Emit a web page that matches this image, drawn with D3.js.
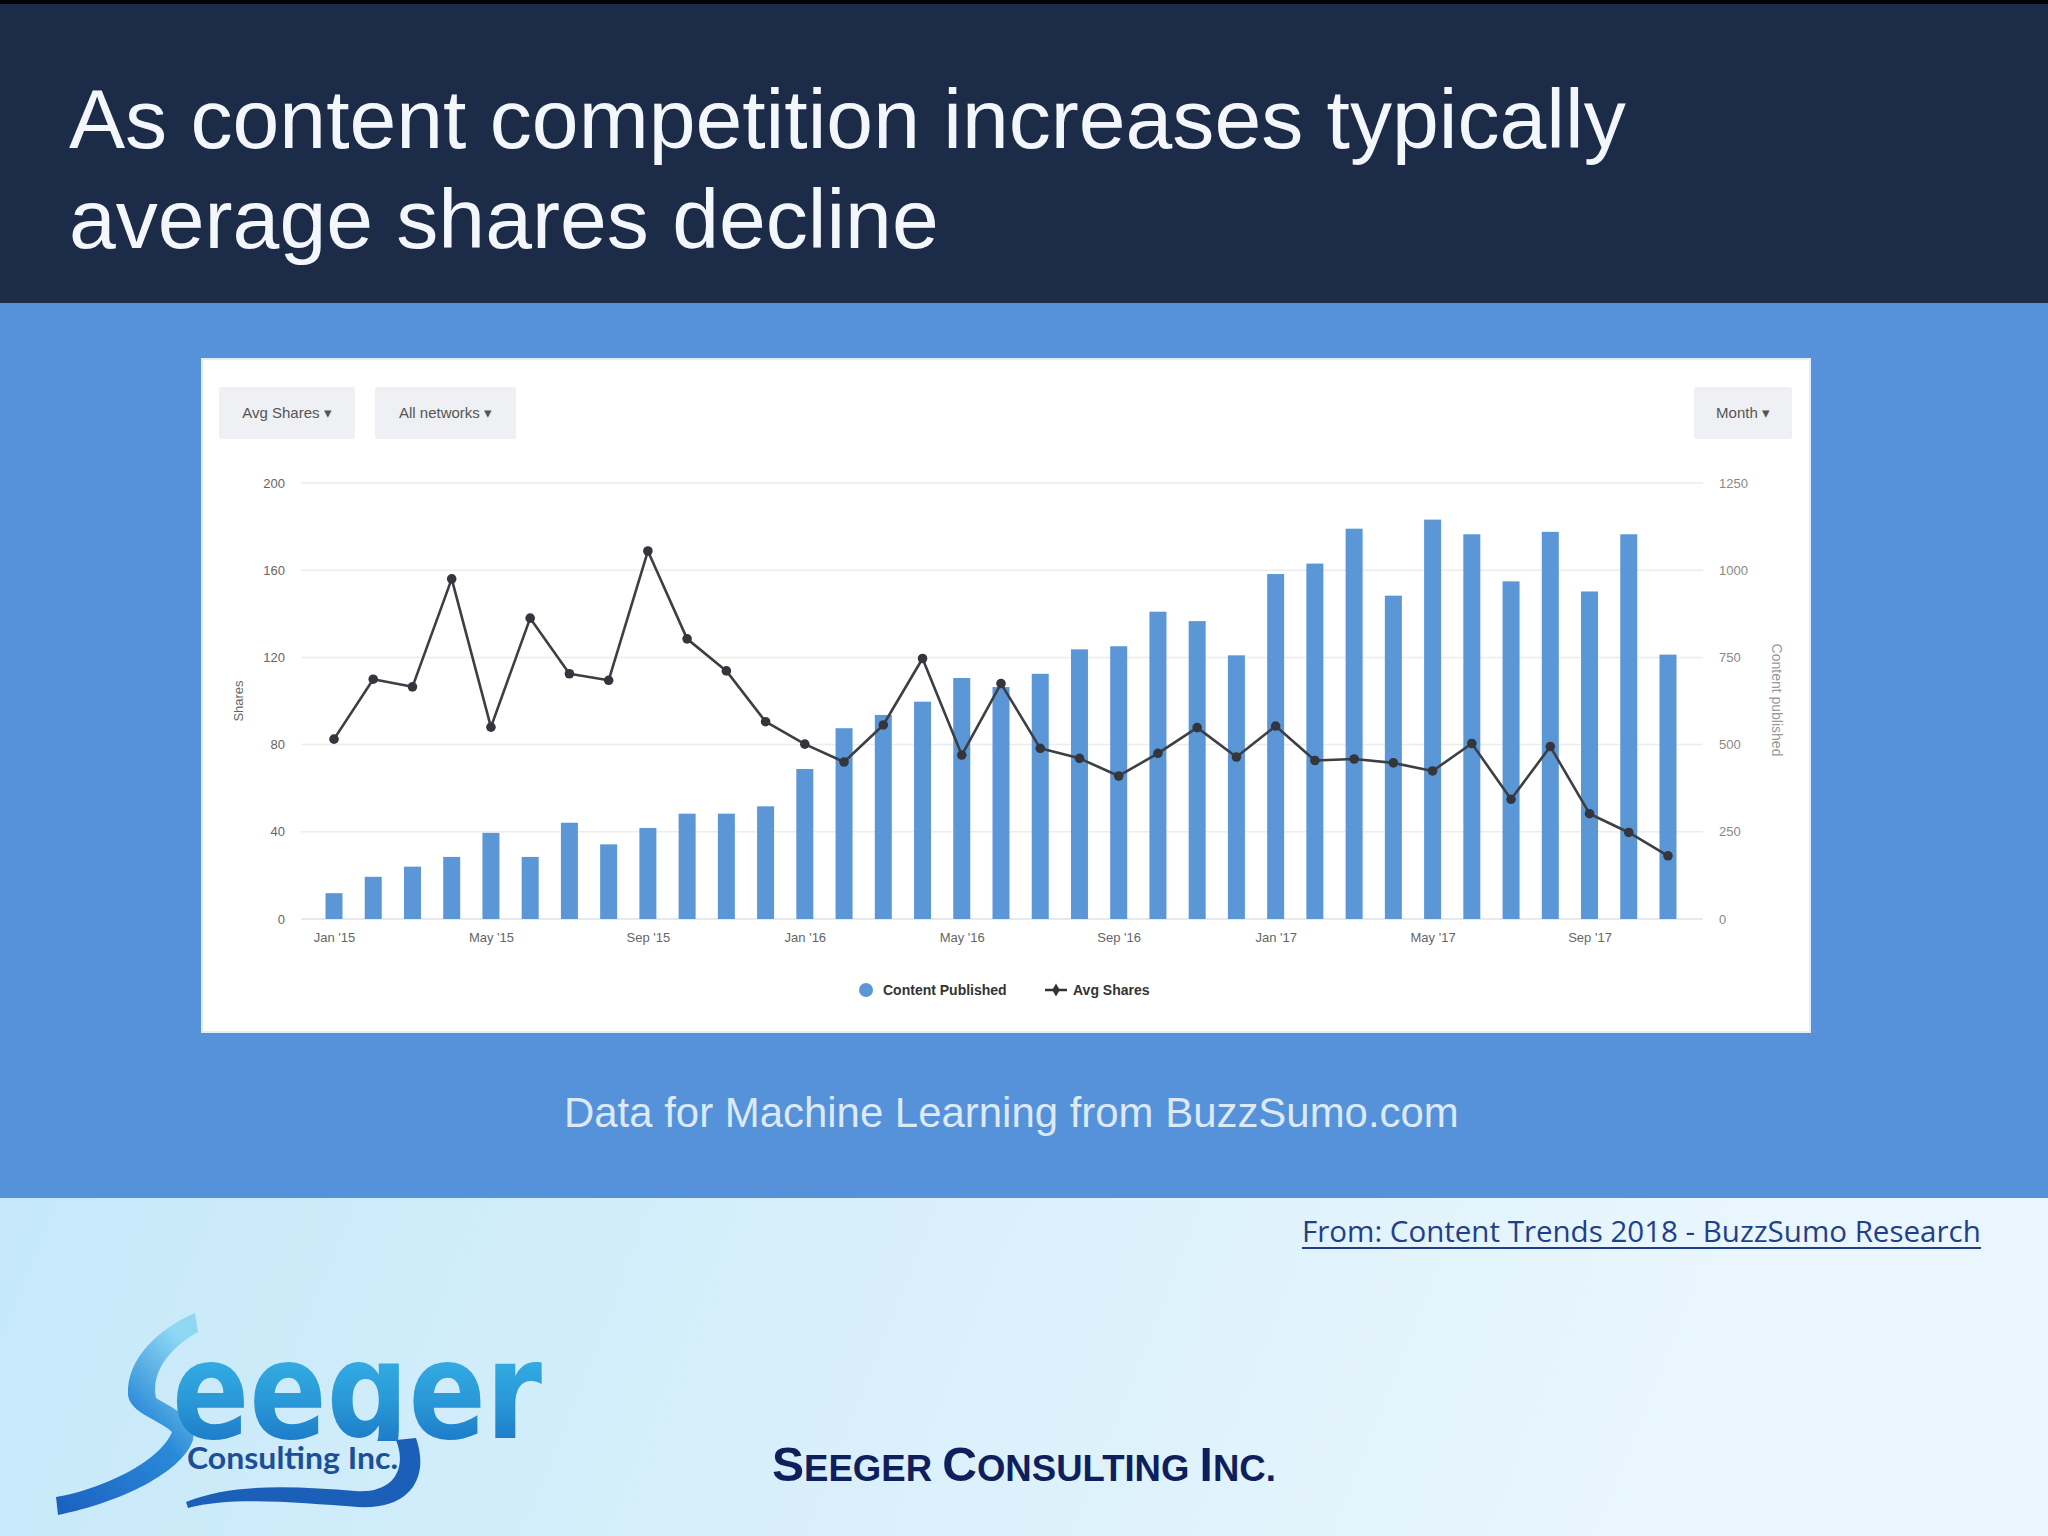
<!DOCTYPE html>
<html>
<head>
<meta charset="utf-8">
<script src="https://cdnjs.cloudflare.com/ajax/libs/d3/7.8.5/d3.min.js"></script>
<style>
  html, body { margin: 0; padding: 0; background: #fff; }
  svg { display: block; }
</style>
</head>
<body>
<svg id="chart" width="2048" height="1536"></svg>
<script>
// ---------------- DATA ----------------
const months = [
  "Jan '15","Feb '15","Mar '15","Apr '15","May '15","Jun '15","Jul '15","Aug '15","Sep '15","Oct '15","Nov '15","Dec '15",
  "Jan '16","Feb '16","Mar '16","Apr '16","May '16","Jun '16","Jul '16","Aug '16","Sep '16","Oct '16","Nov '16","Dec '16",
  "Jan '17","Feb '17","Mar '17","Apr '17","May '17","Jun '17","Jul '17","Aug '17","Sep '17","Oct '17","Nov '17"
];
const contentPublished = [
  74, 121, 150, 178, 247, 178, 276, 214, 261, 302, 302, 323,
  430, 547, 585, 623, 691, 665, 703, 773, 782, 881, 854, 756,
  989, 1019, 1119, 927, 1145, 1103, 968, 1110, 939, 1103, 758
];
const avgShares = [
  82.5, 110, 106.5, 156, 88, 138, 112.5, 109.5, 168.8, 128.5, 113.8, 90.5,
  80.2, 72, 89, 119.5, 75.2, 108, 78.3, 73.7, 65.6, 76, 87.8, 74.3,
  88.5, 72.7, 73.4, 71.6, 67.9, 80.5, 54.9, 79.1, 48.3, 39.7, 29
];
const xTickLabels = ["Jan '15","May '15","Sep '15","Jan '16","May '16","Sep '16","Jan '17","May '17","Sep '17"];
const leftTicks = [0, 40, 80, 120, 160, 200];
const rightTicks = [0, 250, 500, 750, 1000, 1250];
const seriesNames = ["Content Published", "Avg Shares"];
const buttonLabels = ["Avg Shares \u25BE", "All networks \u25BE", "Month \u25BE"];

const titleLines = ["As content competition increases typically", "average shares decline"];
const subtitle = "Data for Machine Learning from BuzzSumo.com";
const sourceText = "From: Content Trends 2018 - BuzzSumo Research";

// ---------------- SETUP ----------------
const svg = d3.select("#chart");
const defs = svg.append("defs");
const SANS = "'Liberation Sans', Arial, Helvetica, sans-serif";

function fitWidth(sel, w) {
  const len = sel.node().getComputedTextLength();
  const fs = parseFloat(sel.attr("font-size"));
  sel.attr("font-size", (fs * w / len).toFixed(2));
}

// backgrounds
const bottomGrad = defs.append("linearGradient").attr("id", "bottomGrad")
  .attr("x1", "0").attr("y1", "0").attr("x2", "1").attr("y2", "0.3");
bottomGrad.append("stop").attr("offset", "0").attr("stop-color", "#bce5f8");
bottomGrad.append("stop").attr("offset", "1").attr("stop-color", "#e9f6fd");

svg.append("rect").attr("x", 0).attr("y", 0).attr("width", 2048).attr("height", 1536).attr("fill", "url(#bottomGrad)");
svg.append("rect").attr("x", 0).attr("y", 0).attr("width", 2048).attr("height", 1198).attr("fill", "#5692da");
svg.append("rect").attr("x", 0).attr("y", 0).attr("width", 2048).attr("height", 303).attr("fill", "#1b2b48");
svg.append("rect").attr("x", 0).attr("y", 0).attr("width", 2048).attr("height", 4).attr("fill", "#050505");

// title
const t1 = svg.append("text").attr("x", 69).attr("y", 148).attr("font-family", SANS)
  .attr("font-size", 84).attr("fill", "#f3f6fb").text(titleLines[0]);
fitWidth(t1, 1557);
svg.append("text").attr("x", 69).attr("y", 248).attr("font-family", SANS)
  .attr("font-size", t1.attr("font-size")).attr("fill", "#f3f6fb").text(titleLines[1]);

// chart panel
svg.append("rect").attr("x", 202).attr("y", 359).attr("width", 1608).attr("height", 673)
  .attr("fill", "#ffffff").attr("stroke", "#e4ecf6").attr("stroke-width", 2);

// buttons
const buttons = [
  {x: 219, w: 136}, {x: 375, w: 141}, {x: 1694, w: 98}
];
buttons.forEach((b, i) => {
  svg.append("rect").attr("x", b.x).attr("y", 387).attr("width", b.w).attr("height", 52)
    .attr("rx", 3).attr("fill", "#eef0f3");
  svg.append("text").attr("x", b.x + b.w / 2).attr("y", 418).attr("text-anchor", "middle")
    .attr("font-family", SANS).attr("font-size", 15).attr("fill", "#555")
    .text(buttonLabels[i]);
});

// scales
const x = d3.scalePoint().domain(months).range([334, 1668]);
const yL = d3.scaleLinear().domain([0, 200]).range([919, 483]);
const yR = d3.scaleLinear().domain([0, 1250]).range([919, 483]);
const plotLeft = 301, plotRight = 1703;
const barW = 17;

// gridlines
svg.append("g").selectAll("line").data(leftTicks).join("line")
  .attr("x1", plotLeft).attr("x2", plotRight)
  .attr("y1", d => yL(d)).attr("y2", d => yL(d))
  .attr("stroke", d => d === 0 ? "#e2e2e2" : "#ececec").attr("stroke-width", 1.5);

// left axis
const axL = svg.append("g").attr("transform", "translate(285,0)")
  .call(d3.axisLeft(yL).tickValues(leftTicks).tickSize(0).tickPadding(0).tickFormat(d3.format("d")));
axL.select(".domain").remove();
axL.selectAll("text").attr("font-family", SANS).attr("font-size", 13).attr("fill", "#666");

// right axis
const axR = svg.append("g").attr("transform", "translate(1719,0)")
  .call(d3.axisRight(yR).tickValues(rightTicks).tickSize(0).tickPadding(0).tickFormat(d3.format("d")));
axR.select(".domain").remove();
axR.selectAll("text").attr("font-family", SANS).attr("font-size", 13).attr("fill", "#888");

// bottom axis
const axB = svg.append("g").attr("transform", "translate(0,930)")
  .call(d3.axisBottom(x).tickValues(xTickLabels).tickSize(0).tickPadding(0));
axB.select(".domain").remove();
axB.selectAll("text").attr("font-family", SANS).attr("font-size", 13).attr("fill", "#666").attr("dy", "0.9em");

// axis titles
svg.append("text").attr("transform", "translate(243,701) rotate(-90)")
  .attr("text-anchor", "middle").attr("font-family", SANS).attr("font-size", 13).attr("fill", "#666")
  .text("Shares");
svg.append("text").attr("transform", "translate(1772,700) rotate(90)")
  .attr("text-anchor", "middle").attr("font-family", SANS).attr("font-size", 14).attr("fill", "#999")
  .text("Content published");

// bars
const barColor = "#5b97d6";
svg.append("g").selectAll("rect").data(contentPublished).join("rect")
  .attr("x", (d, i) => x(months[i]) - barW / 2)
  .attr("y", d => yR(d))
  .attr("width", barW)
  .attr("height", d => yR(0) - yR(d))
  .attr("fill", barColor);

// line
const line = d3.line().x((d, i) => x(months[i])).y(d => yL(d));
svg.append("path").datum(avgShares).attr("d", line)
  .attr("fill", "none").attr("stroke", "#3d3f44").attr("stroke-width", 2.6).attr("stroke-linejoin", "round");
svg.append("g").selectAll("circle").data(avgShares).join("circle")
  .attr("cx", (d, i) => x(months[i])).attr("cy", d => yL(d)).attr("r", 4.8)
  .attr("fill", "#33363c");

// legend
const lg = svg.append("g");
lg.append("circle").attr("cx", 866).attr("cy", 990).attr("r", 7).attr("fill", barColor);
lg.append("text").attr("x", 883).attr("y", 995).attr("font-family", SANS).attr("font-size", 14)
  .attr("font-weight", "bold").attr("fill", "#333").text(seriesNames[0]);
lg.append("line").attr("x1", 1045).attr("x2", 1067).attr("y1", 990).attr("y2", 990)
  .attr("stroke", "#333").attr("stroke-width", 2.5);
lg.append("path").attr("d", d3.symbol(d3.symbolDiamond, 50)).attr("transform", "translate(1056,990)").attr("fill", "#333");
lg.append("text").attr("x", 1073).attr("y", 995).attr("font-family", SANS).attr("font-size", 14)
  .attr("font-weight", "bold").attr("fill", "#333").text(seriesNames[1]);

// subtitle
const st = svg.append("text").attr("x", 564).attr("y", 1127).attr("font-family", SANS)
  .attr("font-size", 40).attr("fill", "#dce9f7").text(subtitle);
fitWidth(st, 895);

// source link
const src = svg.append("text").attr("x", 1302).attr("y", 1242)
  .attr("font-family", "'Open Sans', 'Noto Sans', sans-serif")
  .attr("font-size", 30).attr("fill", "#1f3f8c").text(sourceText);
fitWidth(src, 679);
svg.append("line").attr("x1", 1302).attr("x2", 1981).attr("y1", 1248).attr("y2", 1248)
  .attr("stroke", "#1f3f8c").attr("stroke-width", 2);

// company name in small caps
const cn = svg.append("text").attr("x", 772).attr("y", 1481).attr("font-family", SANS)
  .attr("font-weight", "bold").attr("font-size", 46).attr("fill", "#0f1f5c");
[["S", 1], ["EEGER ", 0.76], ["C", 1], ["ONSULTING ", 0.76], ["I", 1], ["NC.", 0.76]].forEach(([s, k]) => {
  cn.append("tspan").attr("font-size", (k) + "em").text(s);
});
fitWidth(cn, 504);

// logo
const sGrad = defs.append("linearGradient").attr("id", "sGrad")
  .attr("x1", "0").attr("y1", "1").attr("x2", "0.7").attr("y2", "0");
sGrad.append("stop").attr("offset", "0").attr("stop-color", "#1a5fbe");
sGrad.append("stop").attr("offset", "0.6").attr("stop-color", "#2b8ad8");
sGrad.append("stop").attr("offset", "1").attr("stop-color", "#8fd8f4");
const eGrad = defs.append("linearGradient").attr("id", "eGrad")
  .attr("x1", "0").attr("y1", "0").attr("x2", "0").attr("y2", "1");
eGrad.append("stop").attr("offset", "0").attr("stop-color", "#3cc0ee");
eGrad.append("stop").attr("offset", "0.55").attr("stop-color", "#2a9ad8");
eGrad.append("stop").attr("offset", "1").attr("stop-color", "#1668be");
defs.append("clipPath").attr("id", "eClip")
  .append("rect").attr("x", 160).attr("y", 1300).attr("width", 400).attr("height", 141);

const logo = svg.append("g");
logo.append("path")
  .attr("d", "M195,1313 C160,1328 126,1358 128,1395 C130,1413 160,1420 172,1432 C160,1462 100,1490 56,1497 L58,1515 C122,1502 182,1472 193,1440 C198,1418 172,1408 156,1398 C150,1368 176,1344 198,1332 Z")
  .attr("fill", "url(#sGrad)");
// tail of the g forming the lower swoosh
logo.append("path")
  .attr("d", "M186,1502 C235,1482 300,1487 355,1491 C392,1494 408,1470 396,1440 L416,1438 C430,1478 410,1510 358,1507 C300,1503 232,1496 188,1508 Z")
  .attr("fill", "#1c5fb8");
logo.append("text").attr("x", 172).attr("y", 1438)
  .attr("clip-path", "url(#eClip)")
  .attr("font-family", "'DejaVu Sans', sans-serif").attr("font-weight", "bold")
  .attr("font-size", 136).attr("textLength", 370).attr("lengthAdjust", "spacingAndGlyphs")
  .attr("fill", "url(#eGrad)").text("eeger");
logo.append("text").attr("x", 187).attr("y", 1469)
  .attr("font-family", "Lato, 'Open Sans', sans-serif").attr("font-weight", "bold")
  .attr("font-size", 30).attr("textLength", 211).attr("lengthAdjust", "spacingAndGlyphs")
  .attr("fill", "#1d4e98").text("Consulting Inc.");
</script>
</body>
</html>
